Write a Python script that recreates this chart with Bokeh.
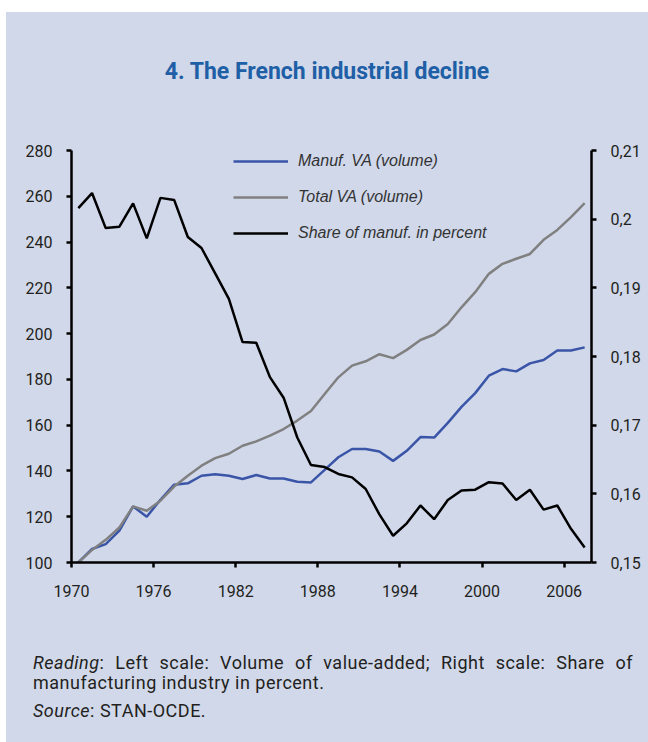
from bokeh.plotting import figure
from bokeh.models import Range1d, LinearAxis, FixedTicker, Legend, LegendItem, Div
from bokeh.layouts import column
from bokeh.embed import file_html
from bokeh.resources import INLINE

years = list(range(1970, 2008))
manuf_va = [100.0, 105.9, 108.0, 113.9, 124.5, 120.0, 127.4, 134.0, 134.6, 137.9,
            138.6, 137.9, 136.5, 138.2, 136.7, 136.7, 135.3, 135.0, 140.5, 146.0,
            149.6, 149.6, 148.5, 144.4, 148.8, 154.8, 154.6, 161.0, 168.0, 174.0,
            181.6, 184.5, 183.5, 187.0, 188.5, 192.6, 192.6, 194.0]
total_va = [100.0, 105.5, 109.9, 115.3, 124.5, 122.6, 127.0, 133.2, 137.9, 142.3,
            145.6, 147.5, 151.0, 152.9, 155.4, 158.3, 162.0, 166.2, 173.6, 180.9,
            186.0, 187.9, 191.0, 189.3, 192.9, 197.2, 199.6, 204.2, 211.5, 218.1,
            226.1, 230.5, 232.7, 234.8, 241.0, 245.3, 250.9, 257.0]
share_manuf = [0.2016, 0.2038, 0.1987, 0.1989, 0.2023, 0.1972, 0.2031, 0.2028, 0.1974, 0.1958,
               0.1921, 0.1884, 0.1821, 0.1820, 0.1770, 0.1740, 0.1682, 0.1642, 0.1639, 0.1629,
               0.1624, 0.1607, 0.1570, 0.1539, 0.1557, 0.1583, 0.1563, 0.1591, 0.1605, 0.1606,
               0.1617, 0.1615, 0.1591, 0.1606, 0.1577, 0.1583, 0.1549, 0.1522]

left_ticks = [100, 120, 140, 160, 180, 200, 220, 240, 260, 280]
right_ticks = [0.15, 0.16, 0.17, 0.18, 0.19, 0.2, 0.21]
right_tick_labels = ["0,15", "0,16", "0,17", "0,18", "0,19", "0,2", "0,21"]
x_tick_years = [1970, 1976, 1982, 1988, 1994, 2000, 2006]

series_names = ["Manuf. VA (volume)", "Total VA (volume)", "Share of manuf. in percent"]
title_text = "4. The French industrial decline"

BG = "#D0D8EA"
BLUE = "#3A55A8"
GREY = "#808080"
TXT = "#231F20"

W = 642
FL, FT, FW, FH, FBOT = 65, 42, 520, 412, 70

p = figure(frame_width=FW, frame_height=FH,
           min_border_left=FL, min_border_right=W - FL - FW,
           min_border_top=FT, min_border_bottom=FBOT,
           x_range=Range1d(years[0] - 0.5, years[-1] + 0.5),
           y_range=Range1d(left_ticks[0], left_ticks[-1]),
           output_backend="svg", toolbar_location=None,
           background_fill_color=BG, border_fill_color=BG, margin=(0, 0, 0, 0))
p.outline_line_color = None
p.grid.visible = False
p.extra_y_ranges = {"share": Range1d(right_ticks[0], right_ticks[-1])}

r1 = p.line(years, manuf_va, line_color=BLUE, line_width=2.5)
r2 = p.line(years, total_va, line_color=GREY, line_width=2.5)
r3 = p.line(years, share_manuf, line_color="black", line_width=2.5, y_range_name="share")

right_axis = LinearAxis(y_range_name="share")
p.add_layout(right_axis, "right")

def style_axis(ax, standoff):
    ax.axis_line_width = 2.5
    ax.axis_line_color = "black"
    ax.major_tick_line_width = 2.5
    ax.major_tick_line_color = "black"
    ax.major_tick_in = 0
    ax.major_tick_out = 5
    ax.minor_tick_line_color = None
    ax.major_label_standoff = standoff
    ax.major_label_text_font = "Roboto"
    ax.major_label_text_font_size = "16px"
    ax.major_label_text_color = TXT

style_axis(p.xaxis[0], 17)
style_axis(p.yaxis[0], 14)
style_axis(right_axis, 14)

p.yaxis[0].ticker = FixedTicker(ticks=left_ticks)
right_axis.ticker = FixedTicker(ticks=right_ticks)
right_axis.major_label_overrides = {t: s for t, s in zip(right_ticks, right_tick_labels)}
xt = [y - 0.5 for y in x_tick_years]
p.xaxis[0].ticker = FixedTicker(ticks=xt)
p.xaxis[0].major_label_overrides = {t: str(y) for t, y in zip(xt, x_tick_years)}

legend = Legend(items=[LegendItem(label=series_names[0], renderers=[r1]),
                       LegendItem(label=series_names[1], renderers=[r2]),
                       LegendItem(label=series_names[2], renderers=[r3])],
                location=(162, 319), padding=0, margin=0, spacing=16,
                glyph_width=55, glyph_height=20, label_height=20, label_standoff=10,
                border_line_color=None, background_fill_alpha=0,
                label_text_font="Liberation Sans", label_text_font_style="italic",
                label_text_font_size="16px", label_text_color="#333333")
p.add_layout(legend)

title_html = (
    '<div style="padding-top:46px; width:%dpx; text-align:center; font-family:Roboto; '
    'font-weight:bold; font-size:23px; line-height:28px; color:#1F5FA6;">%s</div>' % (W, title_text)
)
title_div = Div(text=title_html, width=W, height=96, margin=(0, 0, 0, 0),
                styles={"background-color": BG})

foot_html = (
    '<div style="box-sizing:content-box; padding-top:21px; padding-left:27px; width:600px; '
    'font-family:Roboto; font-size:18px; line-height:20px; letter-spacing:0.5px; color:%s;">'
    '<div style="text-align:justify; text-align-last:justify;"><i>Reading</i>: Left scale: '
    'Volume of value-added; Right scale: Share of</div>'
    '<div>manufacturing industry in percent.</div>'
    '<div style="margin-top:8px;"><i>Source</i>: STAN-OCDE.</div>'
    '</div>' % TXT
)
foot_div = Div(text=foot_html, width=W, height=110, margin=(0, 0, 0, 0),
               styles={"background-color": BG})

layout = column(title_div, p, foot_div, spacing=0, margin=(12, 0, 0, 6),
                styles={"background-color": BG})

open("out.html", "w").write(file_html(layout, INLINE))
